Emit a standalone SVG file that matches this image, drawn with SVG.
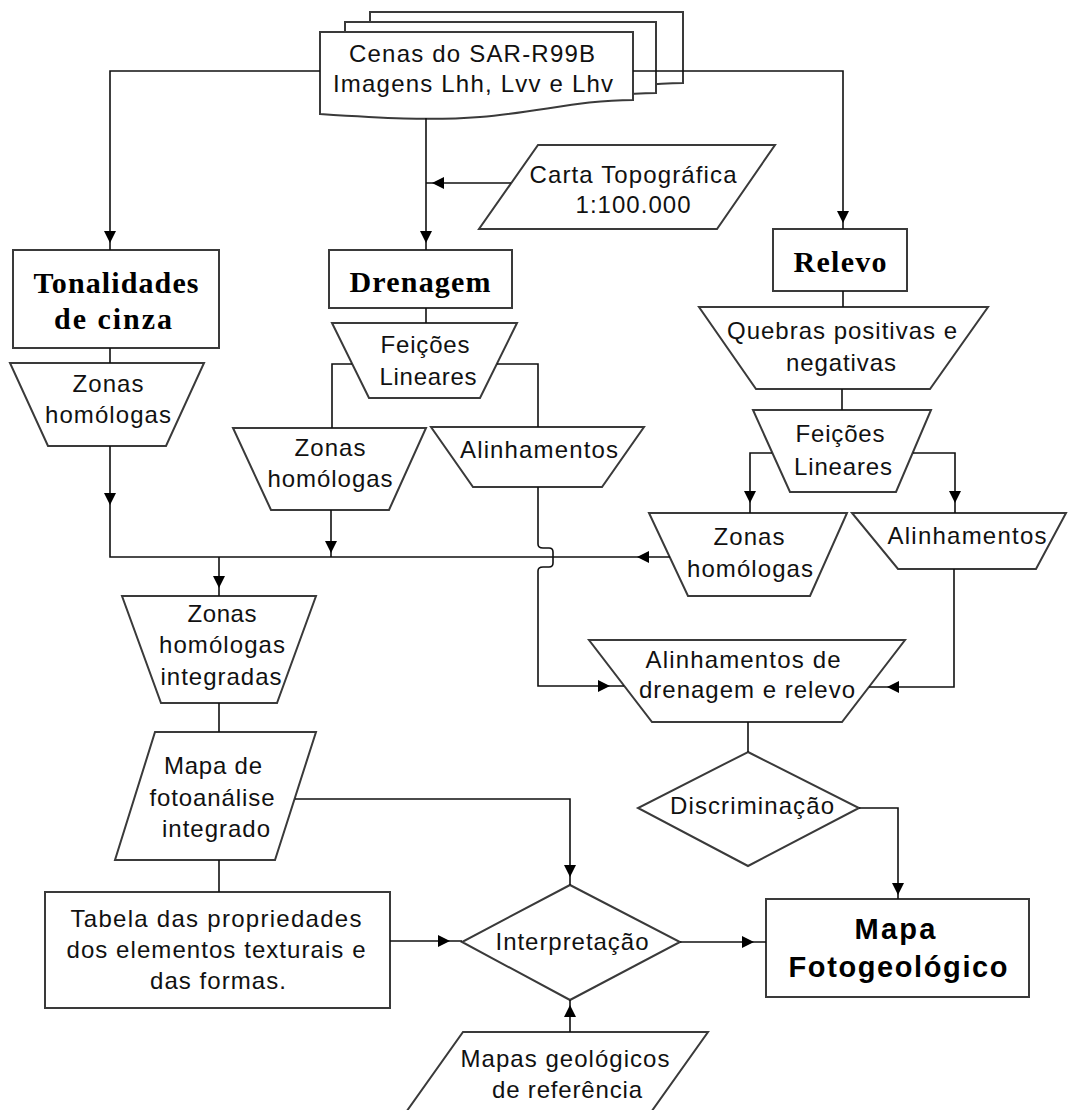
<svg xmlns="http://www.w3.org/2000/svg" xmlns:xlink="http://www.w3.org/1999/xlink" width="1069" height="1110" viewBox="0 0 1069 1110">
<style>
.s{fill:#fff;stroke:#3a3a3a;stroke-width:2}
.c{fill:none;stroke:#111;stroke-width:1.6}
.t{font-family:"Liberation Sans",Arial,sans-serif;font-size:24px;fill:#111;text-anchor:middle}
.b{font-family:"Liberation Serif","Times New Roman",serif;font-size:30px;font-weight:bold;fill:#000;text-anchor:middle}
.m{font-family:"Liberation Sans",Arial,sans-serif;font-size:29px;font-weight:bold;fill:#000;text-anchor:middle}
.a{fill:#000}
</style>
<defs>
<path id="ah" class="a" d="M0,0 L-12,-6 L-12,6 Z"/>
</defs>
<rect width="1069" height="1110" fill="#fff"/>

<g id="cenas">
<path class="s" d="M370,12 H683 V83 C630,83 590,95 530,100 C480,104 430,101 370,97 Z"/>
<path class="s" d="M345,22 H656 V93 C603,93 563,105 503,110 C453,114 403,111 345,107 Z"/>
<path class="s" d="M320,32 H633 V100 C580,100 540,112 480,117 C430,121 380,118 320,114 Z"/>
<text class="t" x="472" y="62" textLength="246">Cenas do SAR-R99B</text>
<text class="t" x="473" y="92" textLength="280">Imagens Lhh, Lvv e Lhv</text>
</g>

<g id="carta">
<path class="s" d="M538,145 H775 L717,229 H479 Z"/>
<text class="t" x="633" y="183" textLength="207">Carta Topográfica</text>
<text class="t" x="633" y="213" textLength="115">1:100.000</text>
</g>

<g id="tonalidades">
<rect class="s" x="13" y="250" width="206" height="98"/>
<text class="b" x="116" y="293" textLength="165">Tonalidades</text>
<text class="b" x="113" y="329" textLength="118">de cinza</text>
</g>

<g id="drenagem">
<rect class="s" x="329" y="250" width="183" height="58"/>
<text class="b" x="420" y="292" textLength="141">Drenagem</text>
</g>

<g id="relevo">
<rect class="s" x="773" y="229" width="134" height="62"/>
<text class="b" x="840" y="272" textLength="93">Relevo</text>
</g>

<g id="zonas-tonal">
<path class="s" d="M10,363 H204 L166,446 H48 Z"/>
<text class="t" x="108" y="392" textLength="71">Zonas</text>
<text class="t" x="108" y="423" textLength="126">homólogas</text>
</g>

<g id="feicoes-dren">
<path class="s" d="M332,323 H517 L480,398 H369 Z"/>
<text class="t" x="425" y="353" textLength="89">Feições</text>
<text class="t" x="428" y="385" textLength="97">Lineares</text>
</g>

<g id="zonas-dren">
<path class="s" d="M233,428 H426 L389,510 H271 Z"/>
<text class="t" x="330" y="456" textLength="71">Zonas</text>
<text class="t" x="330" y="487" textLength="125">homólogas</text>
</g>

<g id="alinh-dren">
<path class="s" d="M431,427 H644 L602,487 H473 Z"/>
<text class="t" x="539" y="458" textLength="158">Alinhamentos</text>
</g>

<g id="quebras">
<path class="s" d="M699,307 H988 L930,389 H756 Z"/>
<text class="t" x="842" y="339" textLength="230">Quebras positivas e</text>
<text class="t" x="841" y="371" textLength="110">negativas</text>
</g>

<g id="feicoes-rel">
<path class="s" d="M753,410 H931 L896,492 H790 Z"/>
<text class="t" x="840" y="442" textLength="89">Feições</text>
<text class="t" x="843" y="475" textLength="98">Lineares</text>
</g>

<g id="zonas-rel">
<path class="s" d="M649,513 H847 L810,596 H688 Z"/>
<text class="t" x="749" y="545" textLength="71">Zonas</text>
<text class="t" x="750" y="577" textLength="126">homólogas</text>
</g>

<g id="alinh-rel">
<path class="s" d="M852,513 H1066 L1036,569 H898 Z"/>
<text class="t" x="967" y="544" textLength="159">Alinhamentos</text>
</g>

<g id="zonas-int">
<path class="s" d="M122,596 H316 L277,703 H161 Z"/>
<text class="t" x="222" y="622" textLength="69">Zonas</text>
<text class="t" x="222" y="653" textLength="126">homólogas</text>
<text class="t" x="221" y="685" textLength="121">integradas</text>
</g>

<g id="alinh-dr">
<path class="s" d="M589,640 H905 L842,722 H652 Z"/>
<text class="t" x="743" y="668" textLength="195">Alinhamentos de</text>
<text class="t" x="747" y="698" textLength="216">drenagem e relevo</text>
</g>

<g id="fotoanalise">
<path class="s" d="M155,732 H316 L275,860 H115 Z"/>
<text class="t" x="213" y="774" textLength="98">Mapa de</text>
<text class="t" x="212" y="806" textLength="125">fotoanálise</text>
<text class="t" x="216" y="837" textLength="108">integrado</text>
</g>

<g id="discriminacao">
<path class="s" d="M748,752 L859,808 L748,866 L638,808 Z"/>
<text class="t" x="752" y="814" textLength="164">Discriminação</text>
</g>

<g id="tabela">
<rect class="s" x="45" y="892" width="345" height="116"/>
<text class="t" x="216" y="927" textLength="291">Tabela das propriedades</text>
<text class="t" x="216" y="958" textLength="299">dos elementos texturais e</text>
<text class="t" x="218" y="989" textLength="136">das formas.</text>
</g>

<g id="interpretacao">
<path class="s" d="M570,885 L680,942 L570,1000 L462,942 Z"/>
<text class="t" x="572" y="950" textLength="153">Interpretação</text>
</g>

<g id="mapa">
<rect class="s" x="766" y="899" width="263" height="98"/>
<text class="m" x="895" y="939" textLength="81">Mapa</text>
<text class="m" x="898" y="977" textLength="219">Fotogeológico</text>
</g>

<g id="mapas-geo">
<path class="s" d="M463,1032 H708 L649,1115 H404 Z"/>
<text class="t" x="565" y="1067" textLength="209">Mapas geológicos</text>
<text class="t" x="567" y="1098" textLength="150">de referência</text>
</g>

<g id="connectors">
<path class="c" d="M320,71 H110 V250"/>
<path class="c" d="M426,118 V250"/>
<path class="c" d="M511,183 H426"/>
<path class="c" d="M633,71 H843 V229"/>
<path class="c" d="M110,348 V363"/>
<path class="c" d="M110,446 V557 H670"/>
<path class="c" d="M331,510 V557"/>
<path class="c" d="M219,557 V596"/>
<path class="c" d="M426,308 V323"/>
<path class="c" d="M352,364 H332 V428"/>
<path class="c" d="M497,364 H538 V427"/>
<path class="c" d="M538,487 V544 Q538,548 543,548 H549 Q553,548 553,552 V563 Q553,567 549,567 H543 Q538,567 538,571 V686 H624"/>
<path class="c" d="M843,291 V307"/>
<path class="c" d="M842,389 V410"/>
<path class="c" d="M772,453 H750 V513"/>
<path class="c" d="M913,453 H955 V513"/>
<path class="c" d="M954,569 V687 H869"/>
<path class="c" d="M748,722 V752"/>
<path class="c" d="M859,808 H898 V899"/>
<path class="c" d="M219,703 V732"/>
<path class="c" d="M295,799 H570 V885"/>
<path class="c" d="M219,860 V892"/>
<path class="c" d="M390,941 H462"/>
<path class="c" d="M680,942 H766"/>
<path class="c" d="M570,1032 V1000"/>
<use xlink:href="#ah" transform="translate(110,243) rotate(90)"/>
<use xlink:href="#ah" transform="translate(426,243) rotate(90)"/>
<use xlink:href="#ah" transform="translate(432,183) rotate(180)"/>
<use xlink:href="#ah" transform="translate(843,223) rotate(90)"/>
<use xlink:href="#ah" transform="translate(110,505) rotate(90)"/>
<use xlink:href="#ah" transform="translate(331,553) rotate(90)"/>
<use xlink:href="#ah" transform="translate(219,588) rotate(90)"/>
<use xlink:href="#ah" transform="translate(750,503) rotate(90)"/>
<use xlink:href="#ah" transform="translate(955,503) rotate(90)"/>
<use xlink:href="#ah" transform="translate(637,557) rotate(180)"/>
<use xlink:href="#ah" transform="translate(610,686)"/>
<use xlink:href="#ah" transform="translate(887,687) rotate(180)"/>
<use xlink:href="#ah" transform="translate(898,895) rotate(90)"/>
<use xlink:href="#ah" transform="translate(570,877) rotate(90)"/>
<use xlink:href="#ah" transform="translate(450,941)"/>
<use xlink:href="#ah" transform="translate(754,942)"/>
<use xlink:href="#ah" transform="translate(570,1005) rotate(-90)"/>
</g>
</svg>
